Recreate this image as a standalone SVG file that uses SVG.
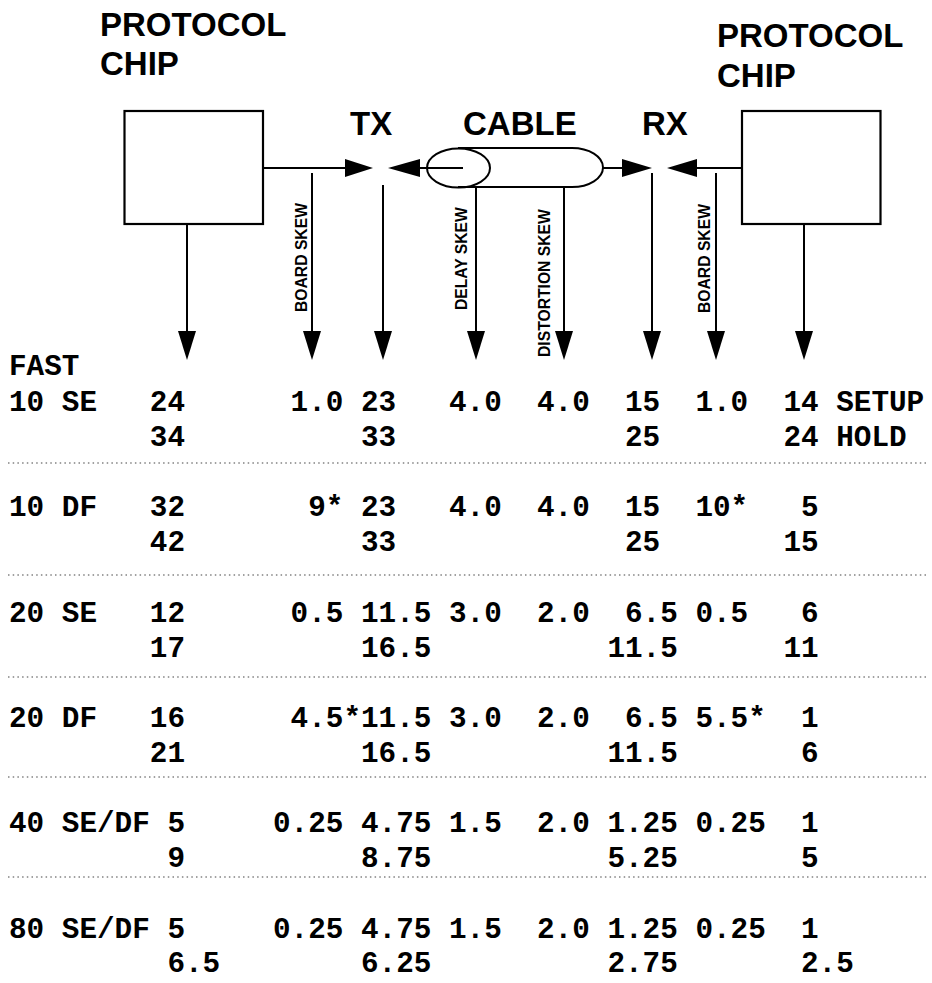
<svg xmlns="http://www.w3.org/2000/svg" width="932" height="983" viewBox="0 0 932 983">
<style>
.title{font-family:"Liberation Sans",Arial,sans-serif;font-weight:bold;font-size:33px;fill:#000}
.vlab{font-family:"Liberation Sans",Arial,sans-serif;font-weight:bold;font-size:15.7px;fill:#000}
.tbl{font-family:"Liberation Mono","Courier New",monospace;font-weight:bold;font-size:29.33px;fill:#000;white-space:pre}
.box{fill:#fff;stroke:#000;stroke-width:2.2}
.ln{stroke:#000;stroke-width:2;fill:none}
.dot{stroke:#444;stroke-width:1.2;stroke-dasharray:1.5 3.2;fill:none}
.ah{fill:#000;stroke:none}
</style>
<rect width="932" height="983" fill="#fff"/>
<g id="chip-left">
<text class="title" x="100" y="36">PROTOCOL</text>
<text class="title" x="100" y="75">CHIP</text>
<rect class="box" x="124.5" y="111" width="138.5" height="113"/>
</g>
<g id="chip-right">
<text class="title" x="717" y="47">PROTOCOL</text>
<text class="title" x="717" y="87">CHIP</text>
<rect class="box" x="742" y="111" width="138.5" height="113"/>
</g>
<g id="tx"><text class="title" x="350" y="135">TX</text></g>
<g id="rx"><text class="title" x="642" y="135">RX</text></g>
<g id="cable">
<text class="title" x="463" y="135">CABLE</text>
<path class="ln" d="M458 148 H572 A31 19.5 0 0 1 572 187 H458"/>
<ellipse class="ln" cx="458.5" cy="168" rx="31.5" ry="19.5" fill="#fff"/>
</g>
<g id="connectors">
<line class="ln" x1="263" y1="168" x2="348" y2="168"/>
<polygon class="ah" points="345,159 373,168 345,177"/>
<line class="ln" x1="417" y1="168" x2="463" y2="168"/>
<polygon class="ah" points="420,159 388,168 420,177"/>
<line class="ln" x1="603" y1="168" x2="625" y2="168"/>
<polygon class="ah" points="622,159 652,168 622,177"/>
<line class="ln" x1="694" y1="168" x2="742" y2="168"/>
<polygon class="ah" points="697,159 667,168 697,177"/>
<line class="ln" x1="187" y1="224" x2="187" y2="334"/>
<polygon class="ah" points="178,331 196,331 187,360"/>
<line class="ln" x1="312" y1="173" x2="312" y2="334"/>
<polygon class="ah" points="303,331 321,331 312,360"/>
<line class="ln" x1="383" y1="185" x2="383" y2="334"/>
<polygon class="ah" points="374,331 392,331 383,360"/>
<line class="ln" x1="476" y1="186" x2="476" y2="334"/>
<polygon class="ah" points="467,331 485,331 476,360"/>
<line class="ln" x1="564" y1="186" x2="564" y2="334"/>
<polygon class="ah" points="555,331 573,331 564,360"/>
<line class="ln" x1="652" y1="173" x2="652" y2="334"/>
<polygon class="ah" points="643,331 661,331 652,360"/>
<line class="ln" x1="716" y1="173" x2="716" y2="334"/>
<polygon class="ah" points="707,331 725,331 716,360"/>
<line class="ln" x1="804" y1="224" x2="804" y2="334"/>
<polygon class="ah" points="795,331 813,331 804,360"/>
</g>
<g id="skew-labels">
<text class="vlab" transform="translate(307,312) rotate(-90)">BOARD SKEW</text>
<text class="vlab" transform="translate(467,310) rotate(-90)">DELAY SKEW</text>
<text class="vlab" transform="translate(550,357) rotate(-90)">DISTORTION SKEW</text>
<text class="vlab" transform="translate(710,313) rotate(-90)">BOARD SKEW</text>
</g>
<g id="table">
<text class="tbl" x="9" y="375">FAST</text>
<text class="tbl" x="9" y="411">10 SE   24      1.0 23   4.0  4.0  15  1.0  14 SETUP</text>
<text class="tbl" x="9" y="446">        34          33             25       24 HOLD</text>
<line class="dot" x1="8" y1="463" x2="926" y2="463"/>
<text class="tbl" x="9" y="516">10 DF   32       9* 23   4.0  4.0  15  10*   5</text>
<text class="tbl" x="9" y="551">        42          33             25       15</text>
<line class="dot" x1="8" y1="575" x2="926" y2="575"/>
<text class="tbl" x="9" y="622">20 SE   12      0.5 11.5 3.0  2.0  6.5 0.5   6</text>
<text class="tbl" x="9" y="657">        17          16.5          11.5      11</text>
<line class="dot" x1="8" y1="677" x2="926" y2="677"/>
<text class="tbl" x="9" y="727">20 DF   16      4.5*11.5 3.0  2.0  6.5 5.5*  1</text>
<text class="tbl" x="9" y="762">        21          16.5          11.5       6</text>
<line class="dot" x1="8" y1="777" x2="926" y2="777"/>
<text class="tbl" x="9" y="832">40 SE/DF 5     0.25 4.75 1.5  2.0 1.25 0.25  1</text>
<text class="tbl" x="9" y="867">         9          8.75          5.25       5</text>
<line class="dot" x1="8" y1="877" x2="926" y2="877"/>
<text class="tbl" x="9" y="938">80 SE/DF 5     0.25 4.75 1.5  2.0 1.25 0.25  1</text>
<text class="tbl" x="9" y="972">         6.5        6.25          2.75       2.5</text>
</g>
</svg>
